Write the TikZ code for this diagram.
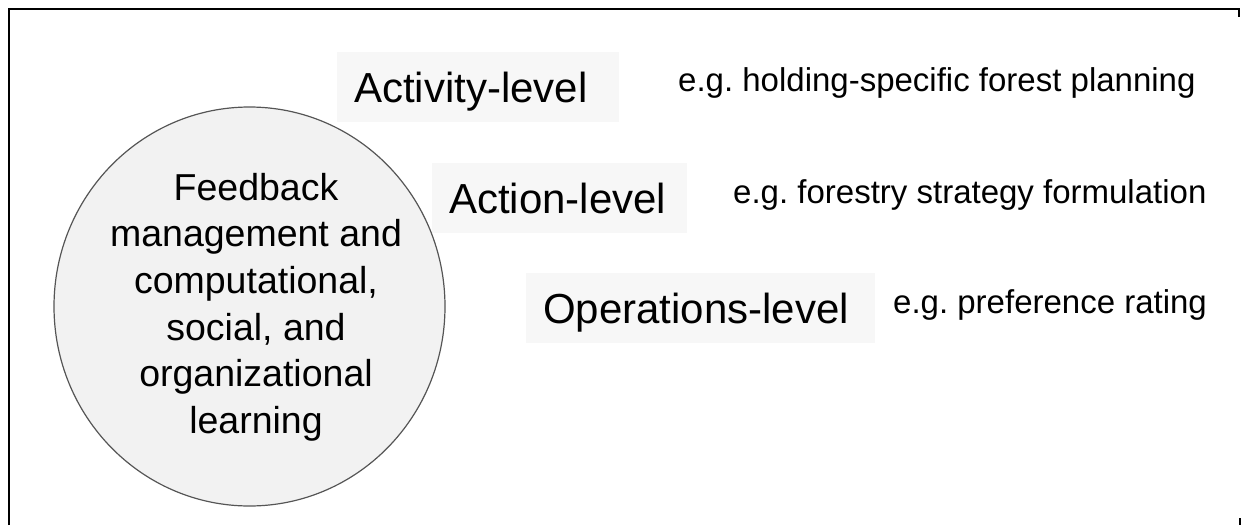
\documentclass[tikz,border=0pt]{standalone}
\usepackage{fontspec}
\setmainfont{Liberation Sans}
\usetikzlibrary{shapes.geometric}
\definecolor{boxgray}{HTML}{F7F7F7}
\definecolor{hubgray}{HTML}{F2F2F2}
\definecolor{rimgray}{HTML}{555555}
\frenchspacing
\begin{document}
\begin{tikzpicture}[x=1pt,y=-1pt,
  level/.style={fill=boxgray,anchor=north west,inner xsep=17pt,inner ysep=0pt,
    minimum height=70pt,text height=30pt,text depth=0pt,align=left,
    font=\fontsize{42}{50}\selectfont},
  example/.style={anchor=base west,inner sep=0pt,font=\fontsize{33}{40}\selectfont}]
\useasboundingbox (0,0) rectangle (1244,525);
% frame
\draw[line width=2.8pt] (9,525) -- (9,9) -- (1239,9) -- (1239,17);
\draw[line width=2.8pt] (1240,518) -- (1240,525);
% learning circle
\node[ellipse,draw=rimgray,fill=hubgray,line width=1.2pt,minimum width=391pt,
  minimum height=399pt,inner sep=0pt] (hub) at (249.5,306.5) {};
\node[align=center,inner sep=0pt,font=\fontsize{37.5}{46.6}\selectfont] (hubtxt) at (256,307)
  {Feedback\\management and\\computational,\\social, and\\organizational\\learning};
% levels
\node[level,text width=248pt] (activity) at (337,52) {Activity-level};
\node[level,text width=221pt] (action) at (432,163) {Action-level};
\node[level,text width=315pt] (operations) at (526,273) {Operations-level};
% examples
\node[example] (exactivity) at (678,91) {e.g. holding-specific forest planning};
\node[example] (exaction) at (733,203) {e.g. forestry strategy formulation};
\node[example] (exoperations) at (893,313) {e.g. preference rating};

\end{tikzpicture}
\end{document}
